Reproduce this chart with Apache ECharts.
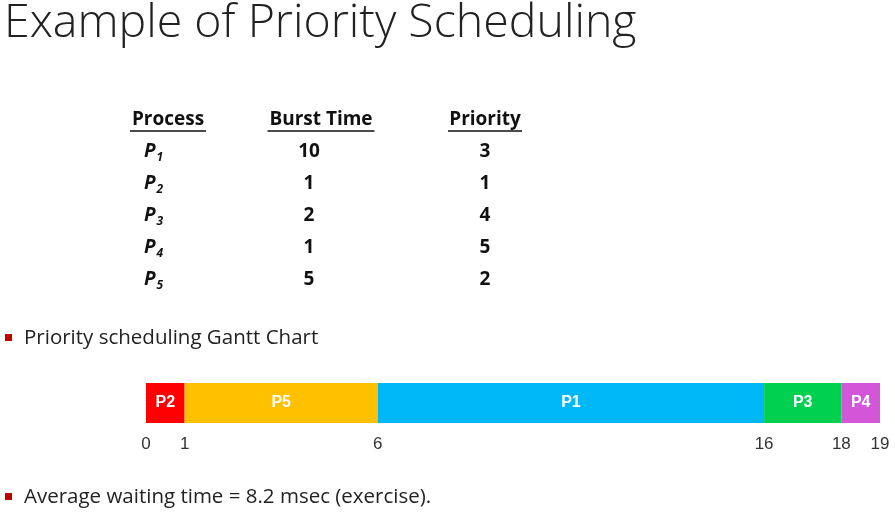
<!DOCTYPE html>
<html>
<head>
<meta charset="utf-8">
<script src="https://cdn.jsdelivr.net/npm/echarts@6/dist/echarts.min.js"></script>
<style>html,body{margin:0;padding:0;background:#fff}#main{width:895px;height:514px}</style>
</head>
<body>
<div id="main"></div>
<script>
// table data
var procs = ['1', '2', '3', '4', '5'];
var burst = [10, 1, 2, 1, 5];
var priority = [3, 1, 4, 5, 2];
// gantt data
var ganttNames = ['P2', 'P5', 'P1', 'P3', 'P4'];
var ganttStart = [0, 1, 6, 16, 18];
var ganttEnd = [1, 6, 16, 18, 19];
var ganttColors = ['#ff0000', '#ffc000', '#00b8f8', '#00d050', '#d355d8'];
var tickValues = [0, 1, 6, 16, 18, 19];

var chart = echarts.init(document.getElementById('main'));
var font = '"Open Sans", sans-serif';
var g = [];
g.push({type:'text', left:4, top:0, style:{text:'Example of Priority Scheduling', font:'300 46.5px '+font, fill:'#222'}});
// headers
var cols = [168, 321, 485];
var heads = ['Process', 'Burst Time', 'Priority'];
var headW = [76, 107, 74];
heads.forEach(function (h, i) {
  g.push({type:'text', x:cols[i], y:120, style:{text:h, font:'bold 19px '+font, fill:'#111', align:'center', verticalAlign:'middle'}});
  g.push({type:'line', shape:{x1:cols[i]-headW[i]/2, y1:131, x2:cols[i]+headW[i]/2, y2:131}, style:{stroke:'#111', lineWidth:1.5}});
});
procs.forEach(function (p, i) {
  var y = 152 + i * 32;
  g.push({type:'text', x:144, y:y, style:{text:'{p|P}{s|' + p + '}', verticalAlign:'middle',
    rich:{p:{font:'italic bold 19px '+font, fill:'#111'}, s:{font:'italic bold 12px '+font, fill:'#111', padding:[12,0,0,1]}}}});
  g.push({type:'text', x:cols[1]-12, y:y, style:{text:String(burst[i]), font:'bold 19px '+font, fill:'#111', align:'center', verticalAlign:'middle'}});
  g.push({type:'text', x:cols[2], y:y, style:{text:String(priority[i]), font:'bold 19px '+font, fill:'#111', align:'center', verticalAlign:'middle'}});
});
// bullets
[[338, 'Priority scheduling Gantt Chart'], [497, 'Average waiting time = 8.2 msec (exercise).']].forEach(function (b) {
  g.push({type:'rect', shape:{x:5, y:b[0]-4, width:7, height:7}, style:{fill:'#c00000'}});
  g.push({type:'text', x:24, y:b[0], style:{text:b[1], font:'20.5px '+font, fill:'#222', verticalAlign:'middle'}});
});

var data = ganttNames.map(function (n, i) { return [ganttStart[i], ganttEnd[i], n, ganttColors[i]]; });

chart.setOption({
  animation: false,
  grid: {left: 146, right: 15, top: 383, height: 40},
  xAxis: {type:'value', min:0, max:19, splitLine:{show:false}, axisLine:{show:false}, axisTick:{show:false},
    axisLabel:{customValues: tickValues, color:'#333', fontSize:17, margin:13, fontFamily:'"Liberation Sans Narrow", Arial, sans-serif'}},
  yAxis: {type:'category', data:['cpu'], show:false},
  graphic: g,
  series: [{
    type: 'custom',
    data: data,
    renderItem: function (params, api) {
      var s = api.coord([api.value(0), 0]);
      var e = api.coord([api.value(1), 0]);
      var h = api.size([0, 1])[1];
      return {
        type: 'rect',
        shape: {x: s[0], y: s[1] - h / 2, width: e[0] - s[0], height: h},
        style: {fill: data[params.dataIndex][3]},
        textContent: {style: {text: data[params.dataIndex][2], fill:'#fff', font:'bold 16px "Liberation Sans Narrow", Arial, sans-serif'}},
        textConfig: {position: 'inside'}
      };
    }
  }]
});
</script>
</body>
</html>
